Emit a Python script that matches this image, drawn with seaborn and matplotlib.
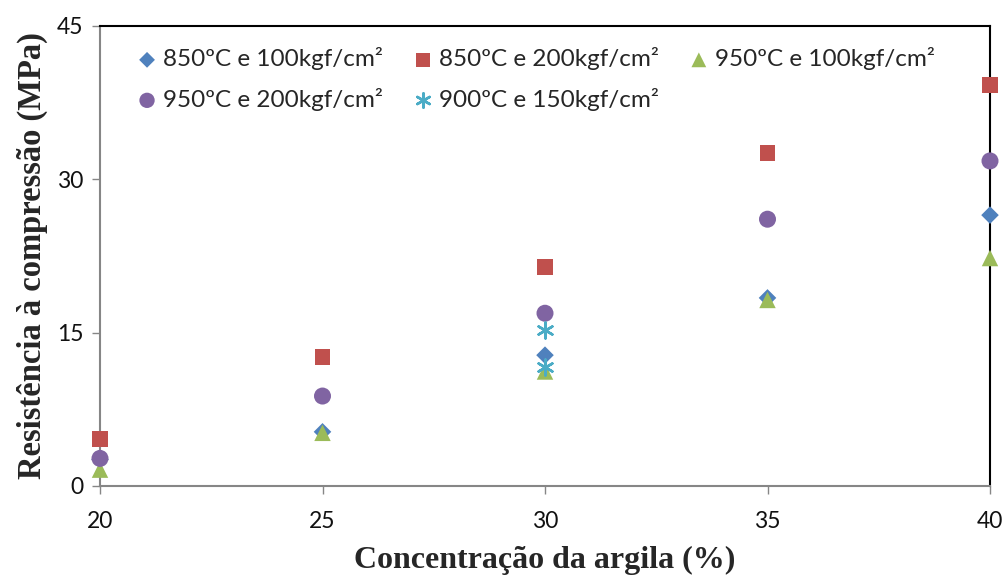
import matplotlib
matplotlib.use("Agg")
import matplotlib.pyplot as plt
import seaborn as sns
import pandas as pd

x_main = [20, 25, 30, 35, 40]
s850_100 = [2.6, 5.3, 12.8, 18.4, 26.5]
s850_200 = [4.6, 12.6, 21.4, 32.6, 39.2]
s950_100 = [1.6, 5.2, 11.2, 18.2, 22.3]
s950_200 = [2.7, 8.8, 16.9, 26.1, 31.8]
x_900 = [30, 30]
s900_150 = [15.3, 11.6]

labels = ["850ºC e 100kgf/cm²", "850ºC e 200kgf/cm²", "950ºC e 100kgf/cm²",
          "950ºC e 200kgf/cm²", "900ºC e 150kgf/cm²"]
colors = ["#4F81BD", "#C0504D", "#9BBB59", "#8064A2", "#4BACC6"]
markers = ["D", "s", "^", "o", (6, 2, 0)]
sizes = [80, 130, 140, 150, 130]
xs = [x_main, x_main, x_main, x_main, x_900]
ys = [s850_100, s850_200, s950_100, s950_200, s900_150]

sns.set_theme(style="white")
plt.rcParams["font.family"] = ["Lato", "DejaVu Sans"]

fig = plt.figure(figsize=(10.06, 5.78), dpi=100)
ax = fig.add_axes([100/1006, 1-486/578, 890/1006, 460/578])

for lab, c, m, s, xv, yv in zip(labels, colors, markers, sizes, xs, ys):
    df = pd.DataFrame({"x": xv, "y": yv})
    kw = dict(marker=m, s=s, color=c, label=lab, ax=ax, zorder=3, clip_on=False)
    if m == (6, 2, 0):
        kw["linewidth"] = 1.8
    else:
        kw["edgecolor"] = "none"
    sns.scatterplot(data=df, x="x", y="y", legend=False, **kw)

ax.set_xlim(20, 40)
ax.set_ylim(0, 45)
ax.set_xticks([20, 25, 30, 35, 40])
ax.set_yticks([0, 15, 30, 45])
ax.tick_params(axis="both", labelsize=16.5, labelcolor="#111111", length=6, width=1,
               direction="out", bottom=True, left=True)
ax.tick_params(axis="x", pad=12, color="#868686")
ax.tick_params(axis="y", pad=6, color="#868686")

for sp in ["left", "bottom"]:
    ax.spines[sp].set_color("#868686")
    ax.spines[sp].set_linewidth(1.5)
for sp in ["top", "right"]:
    ax.spines[sp].set_color("black")
    ax.spines[sp].set_linewidth(1.5)

ax.set_xlabel("Concentração da argila (%)", fontsize=23, fontweight="bold",
              family=["Liberation Serif"], labelpad=10)
ax.set_ylabel("Resistência à compressão (MPa)", fontsize=23.5, fontweight="bold",
              family=["Liberation Serif"], labelpad=6)

handles, labs = ax.get_legend_handles_labels()
order = [0, 3, 1, 4, 2]
leg = ax.legend([handles[i] for i in order], [labs[i] for i in order],
                loc="upper left", ncol=3, frameon=False, fontsize=17.5,
                bbox_to_anchor=(0.031, 0.975), handletextpad=0.25, handlelength=0.8,
                columnspacing=1.25, labelspacing=0.72, markerscale=0.9, borderaxespad=0)

fig.savefig("out.png", dpi=100)
